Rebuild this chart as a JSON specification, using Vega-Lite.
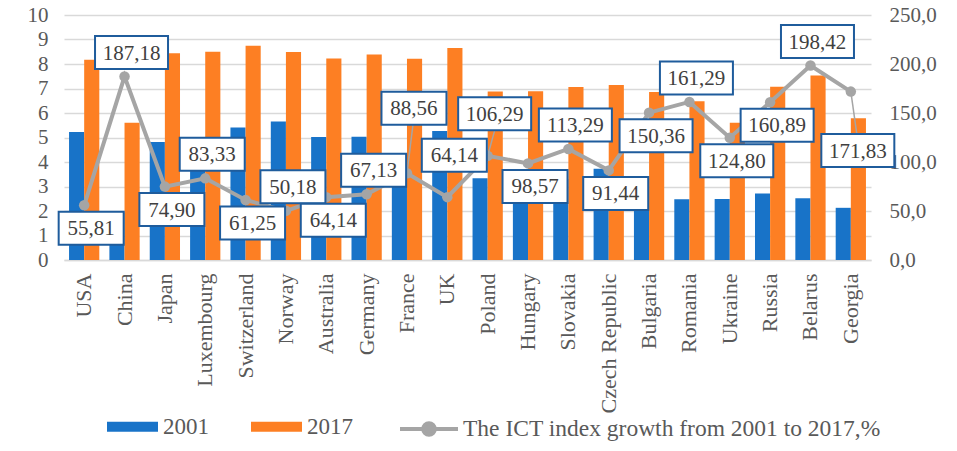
{
  "$schema": "https://vega.github.io/schema/vega-lite/v6.json",
  "width": 807,
  "height": 245,
  "autosize": "none",
  "padding": {"left": 64, "top": 15, "right": 86, "bottom": 191},
  "background": "white",
  "config": {
    "locale": {"number": {"decimal": ",", "thousands": " ", "grouping": [3], "currency": ["", ""]}},
    "view": {"stroke": null},
    "font": "Liberation Serif"
  },
  "data": {
    "values": [
      {"country": "USA", "2001": 5.22, "2017": 8.17, "growth": 55.81},
      {"country": "China", "2001": 1.95, "2017": 5.60, "growth": 187.18},
      {"country": "Japan", "2001": 4.82, "2017": 8.44, "growth": 74.90},
      {"country": "Luxembourg", "2001": 4.64, "2017": 8.50, "growth": 83.33},
      {"country": "Switzerland", "2001": 5.41, "2017": 8.74, "growth": 61.25},
      {"country": "Norway", "2001": 5.65, "2017": 8.49, "growth": 50.18},
      {"country": "Australia", "2001": 5.02, "2017": 8.22, "growth": 64.14},
      {"country": "Germany", "2001": 5.03, "2017": 8.39, "growth": 67.13},
      {"country": "France", "2001": 4.35, "2017": 8.21, "growth": 88.56},
      {"country": "UK", "2001": 5.27, "2017": 8.65, "growth": 64.14},
      {"country": "Poland", "2001": 3.34, "2017": 6.88, "growth": 106.29},
      {"country": "Hungary", "2001": 3.47, "2017": 6.89, "growth": 98.57},
      {"country": "Slovakia", "2001": 3.31, "2017": 7.06, "growth": 113.29},
      {"country": "Czech Republic", "2001": 3.72, "2017": 7.14, "growth": 91.44},
      {"country": "Bulgaria", "2001": 2.74, "2017": 6.86, "growth": 150.36},
      {"country": "Romania", "2001": 2.48, "2017": 6.48, "growth": 161.29},
      {"country": "Ukraine", "2001": 2.49, "2017": 5.60, "growth": 124.80},
      {"country": "Russia", "2001": 2.71, "2017": 7.07, "growth": 160.89},
      {"country": "Belarus", "2001": 2.52, "2017": 7.53, "growth": 198.42},
      {"country": "Georgia", "2001": 2.13, "2017": 5.79, "growth": 171.83}
    ]
  },
  "encoding": {
    "x": {
      "field": "country",
      "type": "nominal",
      "sort": ["USA", "China", "Japan", "Luxembourg", "Switzerland", "Norway", "Australia", "Germany", "France", "UK", "Poland", "Hungary", "Slovakia", "Czech Republic", "Bulgaria", "Romania", "Ukraine", "Russia", "Belarus", "Georgia"],
      "scale": {"paddingInner": 0.25, "paddingOuter": 0.125},
      "axis": {
        "title": null,
        "labelAngle": 270,
        "labelFont": "Liberation Serif",
        "labelFontSize": 22,
        "labelColor": "#595959",
        "labelPadding": 13,
        "labelOverlap": false,
        "labelLimit": 0,
        "ticks": false,
        "domain": true,
        "domainColor": "#d9d9d9",
        "domainWidth": 1.5,
        "grid": false
      }
    }
  },
  "layer": [
    {
      "transform": [{"fold": ["2001", "2017"], "as": ["year", "value"]}],
      "mark": {"type": "bar"},
      "encoding": {
        "xOffset": {"field": "year", "type": "nominal", "scale": {"paddingInner": 0, "paddingOuter": 0}},
        "y": {
          "field": "value",
          "type": "quantitative",
          "scale": {"domain": [0, 10], "nice": false},
          "axis": {
            "title": null,
            "orient": "left",
            "values": [0, 1, 2, 3, 4, 5, 6, 7, 8, 9, 10],
            "labelFont": "Liberation Serif",
            "labelFontSize": 21,
            "labelColor": "#595959",
            "labelPadding": 16,
            "ticks": false,
            "domain": false,
            "grid": true,
            "gridColor": "#d9d9d9",
            "gridWidth": 1.5
          }
        },
        "fill": {
          "field": "year",
          "type": "nominal",
          "scale": {"domain": ["2001", "2017"], "range": ["#1873c8", "#fd7f23"]},
          "legend": {
            "title": null,
            "orient": "none",
            "direction": "horizontal",
            "legendX": 43,
            "legendY": 386,
            "symbolType": "M-1,-0.2H1V0.2H-1Z",
            "symbolSize": 2601,
            "symbolStrokeWidth": 0,
            "labelFont": "Liberation Serif",
            "labelFontSize": 23,
            "labelColor": "#595959",
            "labelOffset": 5,
            "columnPadding": 42
          }
        }
      }
    },
    {
      "encoding": {
        "y": {
          "field": "growth",
          "type": "quantitative",
          "scale": {"domain": [0, 250], "nice": false},
          "axis": {
            "title": null,
            "orient": "right",
            "values": [0, 50, 100, 150, 200, 250],
            "format": ".1f",
            "labelFont": "Liberation Serif",
            "labelFontSize": 21,
            "labelColor": "#595959",
            "labelPadding": 18,
            "ticks": false,
            "domain": false,
            "grid": false
          }
        }
      },
      "layer": [
        {
          "mark": {"type": "line", "strokeWidth": 4},
          "encoding": {
            "stroke": {
              "datum": "The ICT index growth from 2001 to 2017,%",
              "scale": {"range": ["#a5a5a5"]},
              "legend": {
                "title": null,
                "orient": "none",
                "legendX": 334,
                "legendY": 383,
                "symbolType": "M-1,0H1M0.2,0A0.2,0.2,0,1,1,-0.2,0A0.2,0.2,0,1,1,0.2,0",
                "symbolSize": 3364,
                "symbolStrokeWidth": 4,
                "symbolFillColor": "#a5a5a5",
                "symbolStrokeColor": "#a5a5a5",
                "labelFont": "Liberation Serif",
                "labelFontSize": 23.5,
                "labelColor": "#595959",
                "labelOffset": 3,
                "labelLimit": 0
              }
            }
          }
        },
        {
          "mark": {"type": "point", "filled": true, "size": 110, "color": "#a5a5a5", "opacity": 1}
        },
        {
          "transform": [{"filter": {"field": "country", "oneOf": ["France", "Georgia", "Poland"]}}],
          "mark": {"type": "point", "filled": false, "size": 10000, "stroke": "#a5a5a5", "strokeWidth": 1.5, "opacity": 1},
          "encoding": {
            "shape": {
              "condition": [
                {"test": "datum.country === 'France'", "value": "M0,0L0.12,-0.97"},
                {"test": "datum.country === 'Georgia'", "value": "M0,0L0.12,0.85"}
              ],
              "value": "M0,0L0.14,-0.51"
            }
          }
        },
        {
          "mark": {"type": "point", "filled": true, "size": 10000, "fill": "white", "stroke": "#1f5c9c", "strokeWidth": 2, "opacity": 1, "fillOpacity": 1},
          "encoding": {
            "shape": {
              "condition": [
                {"test": "datum.country === 'France'", "value": "M-0.51,-1.63H0.79V-0.97H-0.51Z"},
                {"test": "datum.country === 'UK'", "value": "M-0.51,-1.17H0.79V-0.51H-0.51Z"},
                {"test": "datum.country === 'Poland'", "value": "M-0.59,-1.17H0.87V-0.51H-0.59Z"},
                {"test": "datum.country === 'Georgia'", "value": "M-0.59,0.85H0.87V1.51H-0.59Z"},
                {"test": "indexof(['China','Luxembourg','Norway','Germany','Slovakia','Romania','Belarus'], datum.country) >= 0 && datum.growth >= 100", "value": "M-0.59,-0.81H0.87V-0.15H-0.59Z"},
                {"test": "indexof(['China','Luxembourg','Norway','Germany','Slovakia','Romania','Belarus'], datum.country) >= 0", "value": "M-0.51,-0.81H0.79V-0.15H-0.51Z"},
                {"test": "datum.growth >= 100", "value": "M-0.59,0.13H0.87V0.79H-0.59Z"}
              ],
              "value": "M-0.51,0.13H0.79V0.79H-0.51Z"
            }
          }
        },
        {
          "transform": [{"filter": {"field": "country", "oneOf": ["China", "Luxembourg", "Norway", "Germany", "Slovakia", "Romania", "Belarus"]}}],
          "mark": {"type": "text", "font": "Liberation Serif", "fontSize": 21, "color": "#404040", "dx": 7, "dy": -23, "baseline": "middle", "align": "center"},
          "encoding": {"text": {"field": "growth", "type": "quantitative", "format": ".2f"}}
        },
        {
          "transform": [{"filter": {"field": "country", "oneOf": ["USA", "Japan", "Switzerland", "Australia", "Hungary", "Czech Republic", "Bulgaria", "Ukraine", "Russia"]}}],
          "mark": {"type": "text", "font": "Liberation Serif", "fontSize": 21, "color": "#404040", "dx": 7, "dy": 24, "baseline": "middle", "align": "center"},
          "encoding": {"text": {"field": "growth", "type": "quantitative", "format": ".2f"}}
        },
        {
          "transform": [{"filter": {"field": "country", "oneOf": ["UK", "Poland"]}}],
          "mark": {"type": "text", "font": "Liberation Serif", "fontSize": 21, "color": "#404040", "dx": 7, "dy": -41, "baseline": "middle", "align": "center"},
          "encoding": {"text": {"field": "growth", "type": "quantitative", "format": ".2f"}}
        },
        {
          "transform": [{"filter": {"field": "country", "oneOf": ["France"]}}],
          "mark": {"type": "text", "font": "Liberation Serif", "fontSize": 21, "color": "#404040", "dx": 7, "dy": -64, "baseline": "middle", "align": "center"},
          "encoding": {"text": {"field": "growth", "type": "quantitative", "format": ".2f"}}
        },
        {
          "transform": [{"filter": {"field": "country", "oneOf": ["Georgia"]}}],
          "mark": {"type": "text", "font": "Liberation Serif", "fontSize": 21, "color": "#404040", "dx": 7, "dy": 60, "baseline": "middle", "align": "center"},
          "encoding": {"text": {"field": "growth", "type": "quantitative", "format": ".2f"}}
        }
      ]
    }
  ],
  "resolve": {"scale": {"y": "independent"}}
}
